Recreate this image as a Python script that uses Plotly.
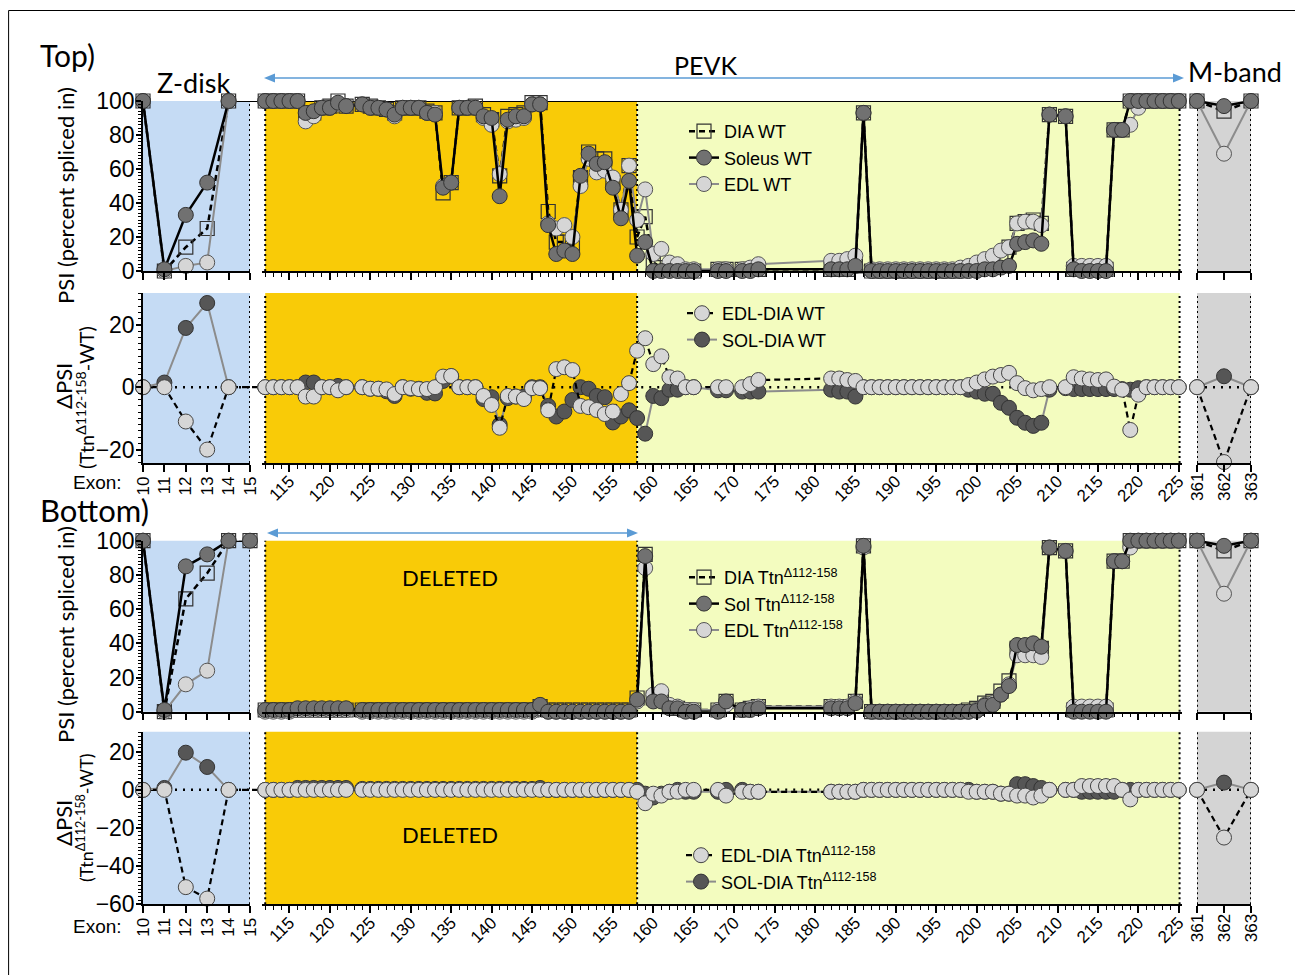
import plotly.graph_objects as go

W, H = 1303, 975
OFF = 8  # page body margin of the rendered html
def PX(x): return (x - OFF) / W
def PY(y): return 1 - (y - OFF) / H

N = None
# ---------------- categories ----------------
z_exons = [10, 11, 12, 13, 14, 15]
m_exons = list(range(112, 226))
mb_exons = [361, 362, 363]

# ---------------- Top (WT) PSI ----------------
wt_dia_z = [100, 0, 14, 25, 100, N]
wt_sol_z = [100, 1, 33, 52, 100, N]
wt_edl_z = [100, 0, 3, 5, 100, N]
wt_dia_mb = [100, 94, 100]
wt_sol_mb = [100, 97, 100]
wt_edl_mb = [100, 69, 100]
wt_sol_m = [
    100, 100, 100, 100, 100, 93, 94, 96, 96, 99,      # 112-121
    97, N, 98, 96, 96, 95, 92, 96, 96, 96,            # 122-131
    93, 92, 49, 52, 96, 96, 96, 91, 90, 44,           # 132-141
    89, 91, 91, 98, 98, 27, 10, 12, 10, 56,           # 142-151
    69, 63, 64, 49, 31, 53, 9, 17, 0, 0,              # 152-161
    0, 0, 0, 0, N, N, 0, 0, N, 0,                     # 162-171
    0, 1, N, N, N, N, N, N, N, N,                     # 172-181
    1, 1, 1, 3, 93, 0, 0, 0, 0, 0,                    # 182-191
    0, 0, 0, 0, 0, 0, 0, 0, 0, 1,                     # 192-201
    1, 2, 3, 16, 17, 18, 16, 92, N, 91,               # 202-211
    1, 0, 0, 0, 0, 83, 83, 100, 100, 100,             # 212-221
    100, 100, 100, 100]                               # 222-225
wt_dia_m = [
    100, 100, 100, 100, 100, 91, 93, 96, 97, 100,
    97, N, 98, 97, 96, 95, 93, 96, 96, 96,
    94, 93, 46, 52, 96, 96, 97, 92, 89, 56,
    91, 92, 93, 99, 99, 35, 17, 17, 15, 55,
    70, 66, 66, 52, 36, 62, 20, 32, 5, 2,
    1, 1, 0, 0, N, N, 1, 1, N, 1,
    1, 1, N, N, N, N, N, N, N, N,
    1, 1, 1, 3, 93, 0, 0, 0, 0, 0,
    0, 0, 0, 0, 0, 0, 0, 1, 2, 3,
    5, 8, 14, 28, 29, 30, 28, 92, N, 91,
    1, 1, 1, 1, 1, 83, 83, 100, 100, 100,
    100, 100, 100, 100]
wt_edl_m = [
    100, 100, 100, 100, 100, 88, 91, 96, 96, 98,
    97, N, 98, 96, 96, 95, 91, 96, 96, 96,
    93, 93, 50, 52, 96, 96, 96, 90, 86, 57,
    88, 89, 90, 98, 98, 28, 25, 27, 20, 50,
    66, 58, 59, 55, 36, 62, 30, 48, 10, 13,
    5, 4, 1, 1, N, N, 1, 1, N, 1,
    2, 4, N, N, N, N, N, N, N, N,
    6, 6, 7, 9, 93, 1, 1, 1, 1, 1,
    1, 1, 1, 1, 1, 1, 2, 3, 5, 7,
    9, 12, 14, 28, 29, 29, 27, 92, N, 91,
    3, 3, 3, 3, 3, 83, 83, 86, 96, 100,
    100, 100, 100, 100]

# ---------------- Top (WT) delta PSI ----------------
wt_dedl_z = [0, 0, -11, -20, 0, N]
wt_dsol_z = [0, 1.5, 19, 27, 0, N]
wt_dedl_mb = [0, -24, 0]
wt_dsol_mb = [0, 3.5, 0]
wt_dedl_m = [
    0, 0, 0, 0, 0, -3, -3, 0, 0, -1,
    0, N, 0, -0.5, -0.5, -0.7, -2.2, 0, -0.3, -0.6,
    -0.6, 0, 3.4, 3.6, 0, 0, 0, -2.8, -5.7, -13,
    -2.8, -3, -3.8, -0.3, -0.3, -7.4, 5.8, 6.4, 5.5, -6,
    -6.4, -7.3, -8.6, -7.8, -2.2, 1.3, 11.7, 15.7, 7.4, 9.9,
    3.2, 2.8, 0, 0, N, N, 0, 0, N, 0,
    1, 2.3, N, N, N, N, N, N, N, N,
    2.8, 2.8, 2.3, 2, 0, 0, 0, 0, 0, 0,
    0, 0, 0, 0, 0, 0, 0, 0.7, 1.5, 2.5,
    3.4, 3.9, 4.6, 1.3, -0.3, -1, -0.6, 0, N, 0,
    3.2, 2.8, 2.5, 2.3, 2.5, 0.2, -0.8, -13.7, -2.4, 0,
    0, 0, 0, 0]
wt_dsol_m = [
    0, 0, 0, 0, 0, 1.5, 1.5, 0, 0, 0.4,
    0, N, 0, -0.5, -0.5, -1.3, -2.8, 0, -0.5, -0.5,
    -1.8, -2, 2, 3.5, 0, 0, 0, -3.8, -3.2, -12,
    -3.5, -3, -3, 0, 0, -6, -9.4, -7.8, -4.1, 0,
    -0.5, -2.8, -3.2, -11.3, -9.4, -7.4, -9.9, -14.9, -2.8, -3.5,
    -0.8, -0.8, 0, 0, N, N, -1, -1, N, -1.4,
    -1.4, -1.4, N, N, N, N, N, N, N, N,
    -0.8, -1.4, -1.4, -3, 0, 0, 0, 0, 0, 0,
    0, 0, 0, 0, 0, 0, 0, -0.8, -1.4, -2.1,
    -2.1, -5, -6.6, -9.8, -11.4, -12.4, -11.4, -0.8, N, -0.3,
    -0.6, -0.6, -0.6, -0.6, -0.6, -0.6, -0.6, -0.8, -0.3, 0,
    0, 0, 0, 0]

# ---------------- Bottom (Ttn delta112-158) PSI ----------------
ko_dia_z = [100, 0, 66, 81, 100, 100]
ko_sol_z = [100, 1, 85, 92, 100, 100]
ko_edl_z = [100, 0, 16, 24, 100, N]
ko_dia_mb = [100, 94, 100]
ko_sol_mb = [100, 97, 100]
ko_edl_mb = [100, 69, 100]
ko_sol_m = [
    1, 1, 1, 1, 2, 2, 2, 2, 2, 2,
    2, N, 1, 1, 1, 1, 1, 1, 1, 1,
    1, 1, 1, 1, 1, 1, 1, 1, 1, 1,
    1, 1, 1, 1, 4, 0, 0, 0, 0, 0,
    0, 0, 0, 0, 0, 0, 7, 91, 6, 6,
    2, 2, 0, 0, N, N, 0, 6, N, 1,
    1, 2, N, N, N, N, N, N, N, N,
    2, 2, 2, 5, 97, 0, 0, 0, 0, 0,
    0, 0, 0, 0, 0, 0, 0, 0, 0.5, 3.5,
    4, 10, 15, 39, 39, 40, 38, 96, N, 94,
    0, 0, 0, 0, 0, 88, 88, 100, 100, 100,
    100, 100, 100, 100]
ko_dia_m = [
    1, 1, 1, 1, 1, 1, 1, 1, 1, 1,
    1, N, 1, 1, 1, 1, 1, 1, 1, 1,
    1, 1, 1, 1, 1, 1, 1, 1, 1, 1,
    1, 1, 1, 1, 3, 1, 1, 1, 1, 1,
    1, 1, 1, 1, 1, 1, 8, 92, 8, 8,
    3, 2, 1, 1, N, N, 1, 6, N, 1,
    2, 3, N, N, N, N, N, N, N, N,
    3, 3, 3, 6, 97, 0, 0, 0, 0, 0,
    0, 0, 0, 0, 0, 0, 0, 1, 2, 5,
    6, 12, 18, 37, 37, 38, 37, 96, N, 94,
    1, 1, 1, 1, 1, 88, 88, 100, 100, 100,
    100, 100, 100, 100]
ko_edl_m = [
    0, 0, 0, 0, 1, 1, 1, 1, 1, 1,
    1, N, 0, 0, 0, 0, 0, 0, 0, 0,
    0, 0, 0, 0, 0, 0, 0, 0, 0, 0,
    0, 0, 0, 0, 2, 0, 0, 0, 0, 0,
    0, 0, 0, 0, 0, 0, 6, 84, 10, 12,
    4, 3, 1, 1, N, N, 1, 4, N, 1,
    2, 3, N, N, N, N, N, N, N, N,
    3, 3, 3, 6, 96, 0, 0, 0, 0, 0,
    0, 0, 0, 0, 0, 0, 0, 0, 1, 4,
    5, 10, 16, 33, 33, 33, 32, 96, N, 94,
    3, 3, 3, 3, 3, 88, 88, 96, 100, 100,
    100, 100, 100, 100]

# ---------------- Bottom delta PSI ----------------
ko_dedl_z = [0, 0, -51, -57, 0, N]
ko_dsol_z = [0, 1, 19.5, 12, 0, N]
ko_dedl_mb = [0, -25, 0]
ko_dsol_mb = [0, 3.8, 0]
ko_dedl_m = [
    0, 0, 0, 0, 0, 0, 0, 0, 0, 0,
    0, N, 0, 0, 0, 0, 0, 0, 0, 0,
    0, 0, 0, 0, 0, 0, 0, 0, 0, 0,
    0, 0, 0, 0, 0, 0, 0, 0, 0, 0,
    0, 0, 0, 0, 0, 0, -1, -7, -2, -3,
    -1, -1, 0, 0, N, N, 0, -3, N, -1,
    -1, -1, N, N, N, N, N, N, N, N,
    -1, -1, -1, -1, 0, 0, 0, 0, 0, 0,
    0, 0, 0, 0, 0, 0, 0, -1, -1, -1,
    -1, -2, -2, -3, -3, -4, -3, 0, N, 0,
    0, 2, 2, 2, 2, 2, 0, -5, 0, 0,
    0, 0, 0, 0]
ko_dsol_m = [
    0, 0, 0, 0, 1, 1, 1, 1, 1, 1,
    1, N, 0.5, 0.5, 0.5, 0.5, 0.5, 0.5, 0.5, 0.5,
    0.5, 0.5, 0.5, 0.5, 0.5, 0.5, 0.5, 0.5, 0.5, 0.5,
    0.5, 0.5, 0.5, 0.5, 1, 0, 0, 0, 0, 0,
    0, 0, 0, 0, 0, 0, 0, -2, -4, -2,
    -1, 0, -1, -1, N, N, -1, 0, N, 0,
    -1, -1, N, N, N, N, N, N, N, N,
    -1, -1, -1, -1, 0, 0, 0, 0, 0, 0,
    0, 0, 0, 0, 0, 0, 0, 0, -1, -1,
    -1, -2, -2, 3, 3, 2, 1, 0, N, 0,
    0, -1, -1, -1, -1, -1, 0, 0, 0, 0,
    0, 0, 0, 0]

# ---------------- styles ----------------
TXT = 'Liberation Sans'
TTL = 'Lato'
STY = {
    'dia': dict(line=dict(color='black', width=2.5, dash='6px,4px'),
                marker=dict(symbol='square-open', size=14, color='#333333', line=dict(width=1.2, color='#333333'))),
    'sol': dict(line=dict(color='black', width=2.5),
                marker=dict(symbol='circle', size=15, color='#717171', line=dict(width=1, color='#333333'))),
    'edl': dict(line=dict(color='#8c8c8c', width=2),
                marker=dict(symbol='circle', size=15, color='#d6d6d6', line=dict(width=1, color='#555555'))),
    'dedl': dict(line=dict(color='black', width=2.2, dash='6px,4px'),
                 marker=dict(symbol='circle', size=15, color='#d6d6d6', line=dict(width=1, color='#444444'))),
    'dsol': dict(line=dict(color='#8c8c8c', width=2),
                 marker=dict(symbol='circle', size=15, color='#565656', line=dict(width=1, color='#333333'))),
}

rows = {1: (101, 271, [0, 100]), 2: (293, 463, [-24.3, 30.2]),
        3: (540.7, 711.7, [0, 100]), 4: (731.7, 904.3, [-60, 30.5])}
cols = {1: (143, 250, [10, 15]), 2: (262, 1182, [111.6, 225.4]), 3: (1197, 1251, [361, 363])}

def sfx(r, c):
    i = (r - 1) * 3 + c
    return '' if i == 1 else str(i)

fig = go.Figure()

KO = 'Ttn<sup>Δ112-158</sup>'
series = {
    1: [('dia', 'DIA WT', wt_dia_z, wt_dia_m, wt_dia_mb, 1),
        ('edl', 'EDL WT', wt_edl_z, wt_edl_m, wt_edl_mb, 3),
        ('sol', 'Soleus WT', wt_sol_z, wt_sol_m, wt_sol_mb, 2)],
    2: [('dsol', 'SOL-DIA WT', wt_dsol_z, wt_dsol_m, wt_dsol_mb, 2),
        ('dedl', 'EDL-DIA WT', wt_dedl_z, wt_dedl_m, wt_dedl_mb, 1)],
    3: [('dia', 'DIA ' + KO, ko_dia_z, ko_dia_m, ko_dia_mb, 1),
        ('edl', 'EDL ' + KO, ko_edl_z, ko_edl_m, ko_edl_mb, 3),
        ('sol', 'Sol ' + KO, ko_sol_z, ko_sol_m, ko_sol_mb, 2)],
    4: [('dsol', 'SOL-DIA ' + KO, ko_dsol_z, ko_dsol_m, ko_dsol_mb, 2),
        ('dedl', 'EDL-DIA ' + KO, ko_dedl_z, ko_dedl_m, ko_dedl_mb, 1)],
}
legend_names = {1: 'legend', 2: 'legend2', 3: 'legend3', 4: 'legend4'}
xs_by_col = {1: z_exons, 2: m_exons, 3: mb_exons}

for r, lst in series.items():
    for key, name, zv, mv, mbv, rank in lst:
        for c, vals in ((1, zv), (2, mv), (3, mbv)):
            s = sfx(r, c)
            fig.add_trace(go.Scatter(
                x=xs_by_col[c], y=vals, mode='lines+markers', name=name,
                xaxis='x' + s, yaxis='y' + s, connectgaps=True, cliponaxis=False,
                showlegend=(c == 2), legend=legend_names[r], legendrank=rank,
                legendgroup=f'{r}-{key}', **STY[key]))

# ---------------- axes ----------------
lay = {}
for r, (yt, yb, yr) in rows.items():
    for c, (xl, xr, xrng) in cols.items():
        s = sfx(r, c)
        xa = dict(domain=[PX(xl), PX(xr)], range=xrng, anchor='y' + s, showgrid=False, zeroline=False,
                  showline=True, linecolor='black', linewidth=1.5, ticks='outside', ticklen=7,
                  tickwidth=1.5, tickcolor='black', showticklabels=(r in (2, 4)),
                  tickfont=dict(family=TXT, size=17, color='black'))
        if c == 1:
            xa.update(tickmode='array', tickvals=z_exons, tickangle=-90, ticklabelstandoff=-2)
        elif c == 2:
            xa.update(tick0=115, dtick=5, tickangle=-45, ticklabelstandoff=-7,
                      minor=dict(dtick=1, ticklen=4, ticks='outside', tickcolor='black', tickwidth=1))
        else:
            xa.update(tickmode='array', tickvals=mb_exons, tickangle=-90, ticklabelstandoff=-6)
        ya = dict(domain=[PY(yb), PY(yt)], range=yr, anchor='x' + s, showgrid=False, zeroline=False)
        if c == 1:
            ya.update(showline=True, linecolor='black', linewidth=1.5, ticks='outside', ticklen=5,
                      tickwidth=1.5, tickcolor='black', dtick=20, ticklabelstandoff=-3,
                      tickfont=dict(family=TXT, size=23, color='black'),
                      minor=dict(dtick=2, ticklen=3, ticks='outside', tickcolor='black', tickwidth=1))
        else:
            ya.update(showline=False, showticklabels=False, ticks='')
        lay['xaxis' + s] = xa
        lay['yaxis' + s] = ya

# ---------------- shapes ----------------
shapes = []
BLUE, ORANGE, YELLOW, GRAY = '#c5dbf4', '#f9cb07', '#f3fcbf', '#d4d4d4'
DOT = dict(color='black', width=2, dash='2px,3px')
ZDOT = dict(color='black', width=2.5, dash='2px,6px')
for r, (yt, yb, yr) in rows.items():
    s1, s2, s3 = sfx(r, 1), sfx(r, 2), sfx(r, 3)
    for s, x0, x1, col in ((s1, 10, 15, BLUE), (s2, 112, 158, ORANGE), (s2, 158, 225.1, YELLOW), (s3, 361, 363, GRAY)):
        shapes.append(dict(type='rect', xref='x' + s, yref=f'y{s} domain', x0=x0, x1=x1, y0=0, y1=1,
                           fillcolor=col, line=dict(width=0), layer='below'))
    for s, xv in ((s1, 15), (s2, 112), (s2, 158), (s2, 225.1), (s3, 361), (s3, 363)):
        shapes.append(dict(type='line', xref='x' + s, yref=f'y{s} domain', x0=xv, x1=xv, y0=0, y1=1,
                           line=DOT, layer='below'))
    if r in (2, 4):
        for s, x0, x1 in ((s1, 10, 15), (s2, 112, 225.1), (s3, 361, 363)):
            shapes.append(dict(type='line', xref='x' + s, yref='y' + s, x0=x0, x1=x1, y0=0, y1=0,
                               line=ZDOT, layer='below'))
        # connecting line from exon 14 across to the PEVK panel
        shapes.append(dict(type='line', xref='paper', yref='y' + s1, x0=PX(232), x1=PX(262), y0=0, y1=0,
                           line=dict(color='black', width=2.2, dash='6px,4px'), layer='below'))
# top line at 100 continuing from Z-disk across PEVK
shapes.append(dict(type='line', xref='paper', yref='y', x0=PX(228), x1=PX(1180), y0=100, y1=100,
                   line=dict(color='black', width=2), layer='below'))

ARROW = '#5b9bd5'
def dbl_arrow(xa, xb, y):
    out = [dict(type='line', xref='paper', yref='paper', x0=PX(xa + 6), x1=PX(xb - 6), y0=PY(y), y1=PY(y),
                line=dict(color=ARROW, width=1.6))]
    out.append(dict(type='path', xref='paper', yref='paper',
                    path=f'M {PX(xa)} {PY(y)} L {PX(xa + 11)} {PY(y - 4.5)} L {PX(xa + 11)} {PY(y + 4.5)} Z',
                    fillcolor=ARROW, line=dict(width=0)))
    out.append(dict(type='path', xref='paper', yref='paper',
                    path=f'M {PX(xb)} {PY(y)} L {PX(xb - 11)} {PY(y - 4.5)} L {PX(xb - 11)} {PY(y + 4.5)} Z',
                    fillcolor=ARROW, line=dict(width=0)))
    return out
shapes += dbl_arrow(264, 1184, 78)
shapes += dbl_arrow(267, 638, 533)
# frame (top and left edges, as cropped in the figure)
shapes.append(dict(type='line', xref='paper', yref='paper', x0=PX(8.6), x1=PX(1310), y0=PY(10.5), y1=PY(10.5),
                   line=dict(color='black', width=1)))
shapes.append(dict(type='line', xref='paper', yref='paper', x0=PX(8.6), x1=PX(8.6), y0=PY(10.5), y1=PY(990),
                   line=dict(color='black', width=1)))

# ---------------- annotations ----------------
def ann(text, x, y, size, family=TTL, angle=0, xanchor='center', yanchor='middle'):
    return dict(text=text, x=PX(x), y=PY(y), xref='paper', yref='paper', showarrow=False,
                font=dict(family=family, size=size, color='black'), textangle=angle,
                xanchor=xanchor, yanchor=yanchor)
annotations = [
    ann('Top)', 38, 55, 30, xanchor='left'),
    ann('Bottom)', 38, 510, 31, xanchor='left'),
    ann('Z-disk', 193, 82, 27),
    ann('PEVK', 705, 65, 25),
    ann('M-band', 1235, 72, 27),
    ann('DELETED', 450, 577, 22),
    ann('DELETED', 450, 834, 22),
    ann('PSI (percent spliced in)', 65, 196, 22, angle=-90),
    ann('PSI (percent spliced in)', 65, 635, 22, angle=-90),
    ann('ΔPSI', 63, 386, 22, angle=-90),
    ann('(Ttn<sup>Δ112-158</sup>-WT)', 85, 398, 20, angle=-90),
    ann('ΔPSI', 63, 823, 22, angle=-90),
    ann('(Ttn<sup>Δ112-158</sup>-WT)', 85, 818, 18, angle=-90),
    ann('Exon:', 97, 482, 19, family=TXT),
    ann('Exon:', 97, 926, 19, family=TXT),
]

def leg(x, y):
    return dict(x=PX(x), y=PY(y), xanchor='left', yanchor='top', bgcolor='rgba(0,0,0,0)',
                font=dict(family=TXT, size=18, color='black'), traceorder='normal',
                tracegroupgap=3, itemwidth=30)

fig.update_layout(
    width=W, height=H, margin=dict(l=0, r=0, t=0, b=0, pad=0, autoexpand=False),
    paper_bgcolor='white', plot_bgcolor='rgba(0,0,0,0)',
    shapes=shapes, annotations=annotations,
    legend=leg(684, 113), legend2=leg(682, 295), legend3=leg(684, 559), legend4=leg(681, 837),
    **lay)

fig.write_html('out.html')
